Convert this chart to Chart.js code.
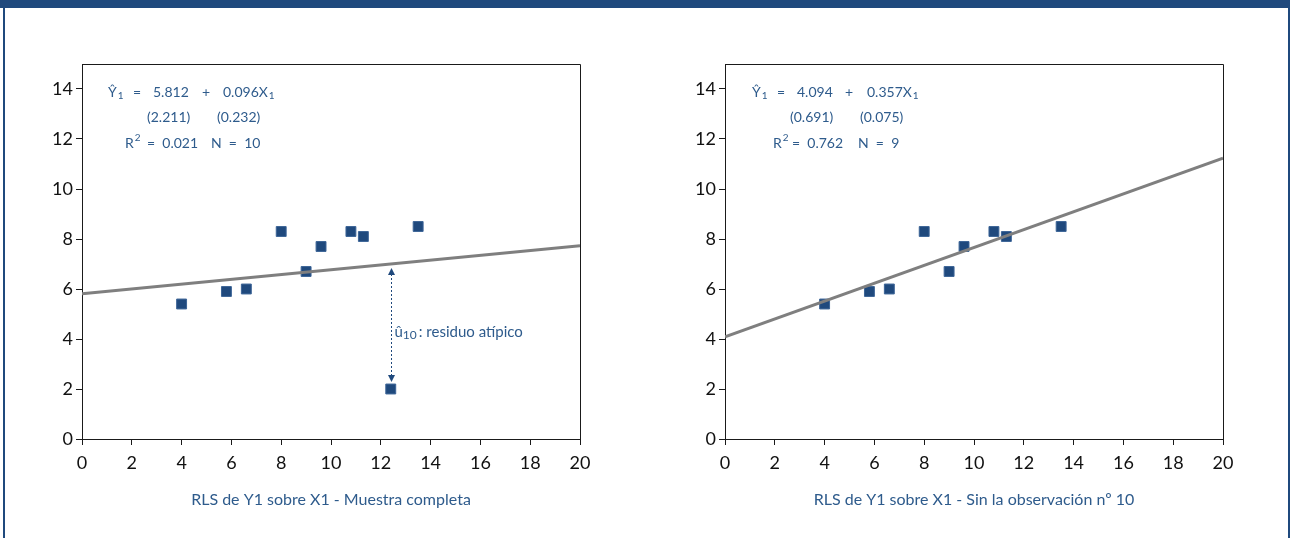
<!DOCTYPE html>
<html lang="es">
<head>
<meta charset="utf-8">
<title>RLS de Y1 sobre X1</title>
<script src="https://cdn.jsdelivr.net/npm/chart.js@4.4.1/dist/chart.umd.min.js"></script>
<style>
    html, body {
        margin: 0;
        padding: 0;
        background: #ffffff;
    }
    #page {
        position: relative;
        width: 1290px;
        height: 538px;
        overflow: hidden;
        background: #ffffff;
    }
    .band {
        position: absolute;
        background: #1f497d;
    }
    .chart-box {
        position: absolute;
        top: 40px;
        width: 580px;
        height: 480px;
    }
</style>
</head>
<body>
<div id="page">
    <div class="band" style="left:0;top:0;width:1290px;height:8px;"></div>
    <div class="band" style="left:3px;top:0;width:2px;height:538px;"></div>
    <div class="band" style="left:1288px;top:0;width:2px;height:538px;"></div>
    <div class="chart-box" style="left:30px;"><canvas id="rls-full"></canvas></div>
    <div class="chart-box" style="left:673px;"><canvas id="rls-no10"></canvas></div>
</div>
<script>
const obsX = [4.0, 5.8, 6.6, 8.0, 9.0, 9.6, 10.8, 11.3, 12.4, 13.5];
const obsY = [5.4, 5.9, 6.0, 8.3, 6.7, 7.7, 8.3, 8.1, 2.0, 8.5];
const outlierIndex = 8; // observación nº 10

// fitted lines, value at x = 0 and x = 20
const lineX = [0, 20];
const fitFull = [5.81, 7.73];
const fitNo10 = [4.09, 11.23];
const residualTop = 7.0;

const xTicks = [0, 2, 4, 6, 8, 10, 12, 14, 16, 18, 20];
const yTicks = [0, 2, 4, 6, 8, 10, 12, 14];

const BLUE = '#1f497d';
const TEXT_BLUE = '#2e5b8c';
const AXIS = '#1a1a1a';
const FONT = 'Lato, "Open Sans", sans-serif';

function toPoints(xs, ys) {
    return xs.map((x, i) => ({ x, y: ys[i] }));
}

function drawParts(ctx, area, row) {
    const y = area.top + row.y;
    row.parts.forEach(([dx, text, sub, sup]) => {
        let x = area.left + dx;
        ctx.font = `14px ${FONT}`;
        ctx.fillText(text, x, y);
        x += ctx.measureText(text).width + 1;
        if (sub) {
            ctx.font = `10px ${FONT}`;
            ctx.fillText(sub, x, y + 4);
        }
        if (sup) {
            ctx.font = `10px ${FONT}`;
            ctx.fillText(sup, x, y - 5);
        }
    });
}

function drawArrowHead(ctx, x, y, dir) {
    ctx.beginPath();
    ctx.moveTo(x, y);
    ctx.lineTo(x - 3.5, y - dir * 7);
    ctx.lineTo(x + 3.5, y - dir * 7);
    ctx.closePath();
    ctx.fill();
}

const notesPlugin = {
    id: 'notes',
    beforeDatasetsDraw(chart) {
        // frame: top and right edges of the plot box
        const { ctx, chartArea: a } = chart;
        ctx.save();
        ctx.strokeStyle = AXIS;
        ctx.lineWidth = 1;
        ctx.beginPath();
        ctx.moveTo(a.left, a.top + 0.5);
        ctx.lineTo(a.right + 0.5, a.top + 0.5);
        ctx.lineTo(a.right + 0.5, a.bottom);
        ctx.stroke();
        ctx.restore();
    },
    afterDatasetsDraw(chart, args, opts) {
        const { ctx, chartArea: a, scales } = chart;
        ctx.save();
        ctx.fillStyle = TEXT_BLUE;
        ctx.textBaseline = 'middle';
        ctx.textAlign = 'left';
        opts.rows.forEach((row) => drawParts(ctx, a, row));

        if (opts.residual) {
            const x = Math.round(scales.x.getPixelForValue(opts.residual.x)) + 0.5;
            const yTop = scales.y.getPixelForValue(opts.residual.from) + 4;
            const yBot = scales.y.getPixelForValue(opts.residual.to) - 7;
            ctx.strokeStyle = BLUE;
            ctx.fillStyle = BLUE;
            ctx.lineWidth = 1;
            ctx.setLineDash([2, 2]);
            ctx.beginPath();
            ctx.moveTo(x, yTop + 6);
            ctx.lineTo(x, yBot - 6);
            ctx.stroke();
            ctx.setLineDash([]);
            drawArrowHead(ctx, x, yTop, -1);
            drawArrowHead(ctx, x, yBot, 1);

            ctx.fillStyle = TEXT_BLUE;
            const ly = (scales.y.getPixelForValue(opts.residual.from) + scales.y.getPixelForValue(opts.residual.to)) / 2 + 6;
            let lx = x + 3;
            ctx.font = `15px ${FONT}`;
            ctx.fillText('û', lx, ly);
            lx += ctx.measureText('û').width;
            ctx.font = `12px ${FONT}`;
            ctx.fillText('10', lx, ly + 3);
            lx += ctx.measureText('10').width + 2;
            ctx.font = `15px ${FONT}`;
            ctx.fillText(': residuo atípico', lx, ly);
        }

        ctx.font = `16px ${FONT}`;
        ctx.textAlign = 'center';
        ctx.fillText(opts.caption, (a.left + a.right) / 2, a.bottom + 61);
        ctx.restore();
    },
};

function buildChart(canvasId, points, fit, notes) {
    const canvas = document.getElementById(canvasId);
    return new Chart(canvas.getContext('2d'), {
        type: 'scatter',
        data: {
            datasets: [
                {
                    type: 'line',
                    data: toPoints(lineX, fit),
                    borderColor: '#7f7f7f',
                    borderWidth: 3,
                    pointRadius: 0,
                    fill: false,
                },
                {
                    data: points,
                    pointStyle: 'rect',
                    pointRadius: 7,
                    pointHoverRadius: 7,
                    backgroundColor: BLUE,
                    borderColor: '#3c6497',
                    borderWidth: 1,
                },
            ],
        },
        options: {
            responsive: true,
            maintainAspectRatio: false,
            animation: false,
            layout: {
                padding: { top: 24, right: 30, bottom: 41, left: 0 },
            },
            plugins: {
                legend: { display: false },
                tooltip: { enabled: false },
                notes,
            },
            scales: {
                x: {
                    type: 'linear',
                    min: 0,
                    max: 20,
                    afterBuildTicks(scale) {
                        scale.ticks = xTicks.map((value) => ({ value }));
                    },
                    afterFit(scale) {
                        scale.height = 40;
                    },
                    grid: {
                        drawOnChartArea: false,
                        color: AXIS,
                        tickLength: 6,
                    },
                    border: { color: AXIS, width: 1 },
                    ticks: {
                        color: '#111111',
                        padding: 7,
                        font: { family: FONT, size: 18 },
                        maxRotation: 0,
                    },
                },
                y: {
                    type: 'linear',
                    min: 0,
                    max: 15,
                    afterBuildTicks(scale) {
                        scale.ticks = yTicks.map((value) => ({ value }));
                    },
                    afterFit(scale) {
                        scale.width = 52;
                    },
                    grid: {
                        drawOnChartArea: false,
                        color: AXIS,
                        tickLength: 6,
                    },
                    border: { color: AXIS, width: 1 },
                    ticks: {
                        color: '#111111',
                        padding: 3,
                        font: { family: FONT, size: 18 },
                    },
                },
            },
        },
        plugins: [notesPlugin],
    });
}

const allPoints = toPoints(obsX, obsY);
const pointsNo10 = allPoints.filter((p, i) => i !== outlierIndex);

buildChart('rls-full', allPoints, fitFull, {
    caption: 'RLS de Y1 sobre X1 - Muestra completa',
    rows: [
        { y: 28, parts: [[26, 'Ŷ', '1'], [51, '='], [71, '5.812'], [120, '+'], [141, '0.096X', '1']] },
        { y: 53, parts: [[65, '(2.211)'], [135, '(0.232)']] },
        { y: 79, parts: [[43, 'R', null, '2'], [65, '=  0.021'], [129, 'N  =  10']] },
    ],
    residual: { x: obsX[outlierIndex], from: residualTop, to: obsY[outlierIndex] },
});

buildChart('rls-no10', pointsNo10, fitNo10, {
    caption: 'RLS de Y1 sobre X1 - Sin la observación nº 10',
    rows: [
        { y: 28, parts: [[27, 'Ŷ', '1'], [52, '='], [72, '4.094'], [120, '+'], [142, '0.357X', '1']] },
        { y: 53, parts: [[65, '(0.691)'], [135, '(0.075)']] },
        { y: 79, parts: [[48, 'R', null, '2'], [67, '=  0.762'], [133, 'N  =  9']] },
    ],
});
</script>
</body>
</html>
